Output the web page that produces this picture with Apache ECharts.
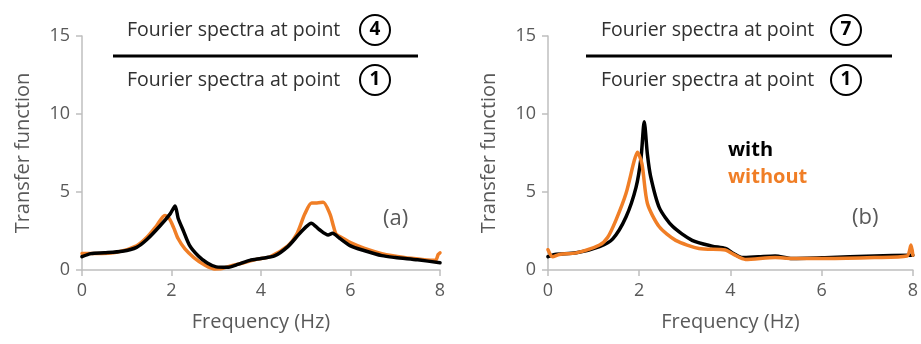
<!DOCTYPE html>
<html>
<head>
<meta charset="utf-8">
<script src="https://cdn.jsdelivr.net/npm/echarts@6/dist/echarts.min.js"></script>
<style>
  html, body { margin: 0; padding: 0; background: #fff; }
  #chart { width: 921px; height: 344px; }
</style>
</head>
<body>
<div id="chart"></div>
<script>
// Transfer functions (ratio of Fourier spectra), with and without the structure
const xTicks = [0, 2, 4, 6, 8];
const yTicks = [0, 5, 10, 15];

// Panel (a): point 4 / point 1
const freqAWith = [0, 0.2, 0.5, 0.9, 1.22, 1.45, 1.75, 1.97, 2.08, 2.15, 2.26, 2.4, 2.6, 2.8, 3.0, 3.25, 3.5, 3.75, 4.0, 4.3, 4.6, 4.85, 5.0, 5.12, 5.3, 5.5, 5.6, 5.75, 6.0, 6.3, 6.7, 7.0, 7.5, 8.0];
const valAWith  = [0.85, 1.05, 1.1, 1.2, 1.45, 1.95, 2.85, 3.6, 4.1, 3.3, 2.55, 1.6, 0.9, 0.45, 0.2, 0.17, 0.38, 0.62, 0.74, 0.9, 1.5, 2.3, 2.75, 3.0, 2.6, 2.25, 2.35, 2.05, 1.55, 1.25, 0.92, 0.8, 0.65, 0.47];

const freqAWithout = [0, 0.3, 0.8, 1.22, 1.45, 1.67, 1.85, 1.95, 2.05, 2.15, 2.3, 2.5, 2.75, 2.95, 3.1, 3.3, 3.6, 3.9, 4.2, 4.6, 4.8, 4.98, 5.13, 5.25, 5.39, 5.54, 5.62, 5.68, 5.85, 6.0, 6.3, 6.7, 7.2, 7.6, 7.9, 7.96, 8.0];
const valAWithout  = [1.05, 1.05, 1.15, 1.55, 2.1, 2.85, 3.5, 3.3, 2.7, 2.0, 1.35, 0.8, 0.3, 0.07, 0.08, 0.25, 0.45, 0.68, 0.85, 1.55, 2.3, 3.6, 4.3, 4.3, 4.35, 3.6, 2.8, 2.3, 2.0, 1.75, 1.4, 1.05, 0.8, 0.68, 0.62, 1.0, 1.1];

// Panel (b): point 7 / point 1
const freqBWith = [0, 0.15, 0.62, 1.13, 1.42, 1.71, 1.93, 2.04, 2.11, 2.18, 2.25, 2.44, 2.73, 3.16, 3.6, 3.89, 4.07, 4.25, 4.62, 4.98, 5.35, 6.07, 7.16, 8.0];
const valBWith  = [0.85, 1.0, 1.1, 1.5, 2.0, 3.4, 5.3, 7.2, 9.5, 7.4, 6.0, 4.0, 2.8, 1.9, 1.53, 1.38, 1.06, 0.8, 0.85, 0.9, 0.74, 0.79, 0.9, 0.95];

const freqBWithout = [0, 0.1, 0.25, 0.62, 1.13, 1.31, 1.49, 1.71, 1.89, 1.96, 2.06, 2.18, 2.44, 2.8, 3.31, 3.89, 4.07, 4.33, 4.98, 5.35, 6.07, 7.16, 7.87, 7.96, 8.0];
const valBWithout  = [1.3, 0.85, 1.0, 1.1, 1.6, 2.1, 3.2, 4.9, 7.0, 7.55, 6.8, 4.26, 2.77, 1.9, 1.38, 1.28, 1.0, 0.68, 0.8, 0.74, 0.74, 0.8, 0.9, 1.6, 0.95];

const zip = (xs, ys) => xs.map((x, i) => [x, ys[i]]);

const BLACK = '#000000';
const ORANGE = '#F07E26';
const GREY_TEXT = '#595959';
const AXIS_GREY = '#BFBFBF';
const FONT = '"Open Sans", "Noto Sans", sans-serif';

function xAxisFor(gridIndex) {
  return {
    type: 'value', gridIndex, min: 0, max: 8, interval: 2,
    name: 'Frequency (Hz)', nameLocation: 'middle', nameGap: 42,
    nameTextStyle: { color: GREY_TEXT, fontSize: 20, fontFamily: FONT },
    axisLine: { show: true, lineStyle: { color: AXIS_GREY, width: 1.5 } },
    axisTick: { show: true, inside: false, length: 6, lineStyle: { color: AXIS_GREY, width: 1.5 } },
    axisLabel: { color: GREY_TEXT, fontSize: 18, fontFamily: FONT, margin: 12 },
    splitLine: { show: false }
  };
}
function yAxisFor(gridIndex) {
  return {
    type: 'value', gridIndex, min: 0, max: 15, interval: 5,
    name: 'Transfer function', nameLocation: 'middle', nameGap: 49,
    nameTextStyle: { color: GREY_TEXT, fontSize: 20, fontFamily: FONT },
    axisLine: { show: true, lineStyle: { color: AXIS_GREY, width: 1.5 } },
    axisTick: { show: true, length: 6, lineStyle: { color: AXIS_GREY, width: 1.5 } },
    axisLabel: { color: GREY_TEXT, fontSize: 18, fontFamily: FONT, margin: 12 },
    splitLine: { show: false }
  };
}
function lineSeries(idx, data, color, z) {
  return {
    type: 'line', xAxisIndex: idx, yAxisIndex: idx, data,
    showSymbol: false, smooth: 0.25, z,
    lineStyle: { color, width: 3.5, cap: 'round', join: 'round' }
  };
}

// Fraction caption: "Fourier spectra at point (n)" over "Fourier spectra at point (1)"
function fraction(textX, lineX1, lineX2, circleX, topNum, botNum) {
  const els = [];
  const rows = [[30, topNum], [80, botNum]];
  rows.forEach(([y, n]) => {
    els.push({
      type: 'text', x: textX, y: y,
      style: { text: 'Fourier spectra at point', fill: '#303030', font: '19.5px ' + FONT, verticalAlign: 'middle' }
    });
    els.push({
      type: 'circle', shape: { cx: circleX, cy: y, r: 15 },
      style: { fill: '#fff', stroke: '#000', lineWidth: 2 }
    });
    els.push({
      type: 'text', x: circleX, y: y,
      style: { text: String(n), fill: '#000', font: 'bold 19px ' + FONT, align: 'center', verticalAlign: 'middle' }
    });
  });
  els.push({
    type: 'line', shape: { x1: lineX1, y1: 56, x2: lineX2, y2: 56 },
    style: { stroke: '#000', lineWidth: 3 }
  });
  return els;
}

const chart = echarts.init(document.getElementById('chart'), null, { renderer: 'canvas' });
chart.setOption({
  animation: false,
  backgroundColor: '#fff',
  grid: [
    { left: 82, right: 481, top: 36, bottom: 74 },
    { left: 548, right: 6, top: 36, bottom: 74 }
  ],
  xAxis: [xAxisFor(0), xAxisFor(1)],
  yAxis: [yAxisFor(0), yAxisFor(1)],
  series: [
    lineSeries(0, zip(freqAWithout, valAWithout), ORANGE, 2),
    lineSeries(0, zip(freqAWith, valAWith), BLACK, 3),
    lineSeries(1, zip(freqBWith, valBWith), BLACK, 2),
    lineSeries(1, zip(freqBWithout, valBWithout), ORANGE, 3)
  ],
  graphic: [
    ...fraction(127, 113, 418, 375, 4, 1),
    ...fraction(601, 586, 892, 846, 7, 1),
    { type: 'text', left: 383, top: 208, style: { text: '(a)', fill: GREY_TEXT, font: '22px ' + FONT } },
    { type: 'text', left: 852, top: 207, style: { text: '(b)', fill: GREY_TEXT, font: '22px ' + FONT } },
    { type: 'text', left: 728, top: 140, style: { text: 'with', fill: BLACK, font: 'bold 20px ' + FONT } },
    { type: 'text', left: 728, top: 167, style: { text: 'without', fill: ORANGE, font: 'bold 20px ' + FONT } }
  ]
});
</script>
</body>
</html>
